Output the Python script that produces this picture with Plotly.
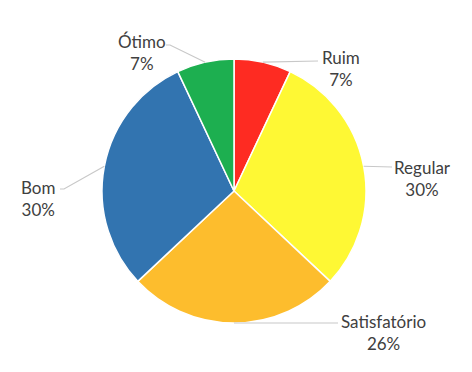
import math
import plotly.graph_objects as go

categories = ["Ruim", "Regular", "Satisfatório", "Bom", "Ótimo"]
values = [7, 30, 26, 30, 7]
pct_labels = ["7%", "30%", "26%", "30%", "7%"]
colors = ["#FE2B22", "#FEF834", "#FDBD2D", "#3274B0", "#1DAF50"]

W, H = 472, 372
CX, CY, R = 234, 191, 132

# label block centres (px) and leader-line outer points (px)
label_pos = {"Ruim": (341, 68), "Regular": (422, 178), "Satisfatório": (383, 332),
             "Bom": (38, 198), "Ótimo": (142, 53)}
leader_out = {"Ruim": [(318, 61)], "Regular": [(392, 167)], "Satisfatório": [(338, 323)],
              "Bom": [(64, 189), (60, 189)], "Ótimo": [(170, 45), (166, 45)]}

def px(x):
    return x / W

def py(y):
    return 1 - y / H

fig = go.Figure(go.Pie(
    labels=categories, values=values, sort=False, direction="clockwise", rotation=0,
    marker=dict(colors=colors, line=dict(color="white", width=1.5)),
    textinfo="none", hoverinfo="label+percent", showlegend=False,
    domain=dict(x=[px(CX - R), px(CX + R)], y=[py(CY + R), py(CY - R)]),
))

total = sum(values)
cum = 0
shapes = []
annotations = []
for cat, v, p in zip(categories, values, pct_labels):
    mid = (cum + v / 2) / total * 2 * math.pi
    cum += v
    sx = CX + R * math.sin(mid)
    sy = CY - R * math.cos(mid)
    pts = [(sx, sy)] + leader_out[cat]
    path = "M " + " L ".join(f"{px(x)},{py(y)}" for x, y in pts)
    shapes.append(dict(type="path", xref="paper", yref="paper", path=path,
                       line=dict(color="#C8C8C8", width=1.2)))
    lx, ly = label_pos[cat]
    annotations.append(dict(x=px(lx), y=py(ly), xref="paper", yref="paper",
                            text=f"{cat}<br>{p}", showarrow=False,
                            xanchor="center", yanchor="middle", align="center",
                            font=dict(family="Lato", size=17, color="#404040")))

fig.update_layout(width=W, height=H, margin=dict(l=0, r=0, t=0, b=0),
                  paper_bgcolor="white", plot_bgcolor="white",
                  shapes=shapes, annotations=annotations)
fig.write_html("out.html", config={"displayModeBar": False},
               post_script="document.body.style.margin='0';")
